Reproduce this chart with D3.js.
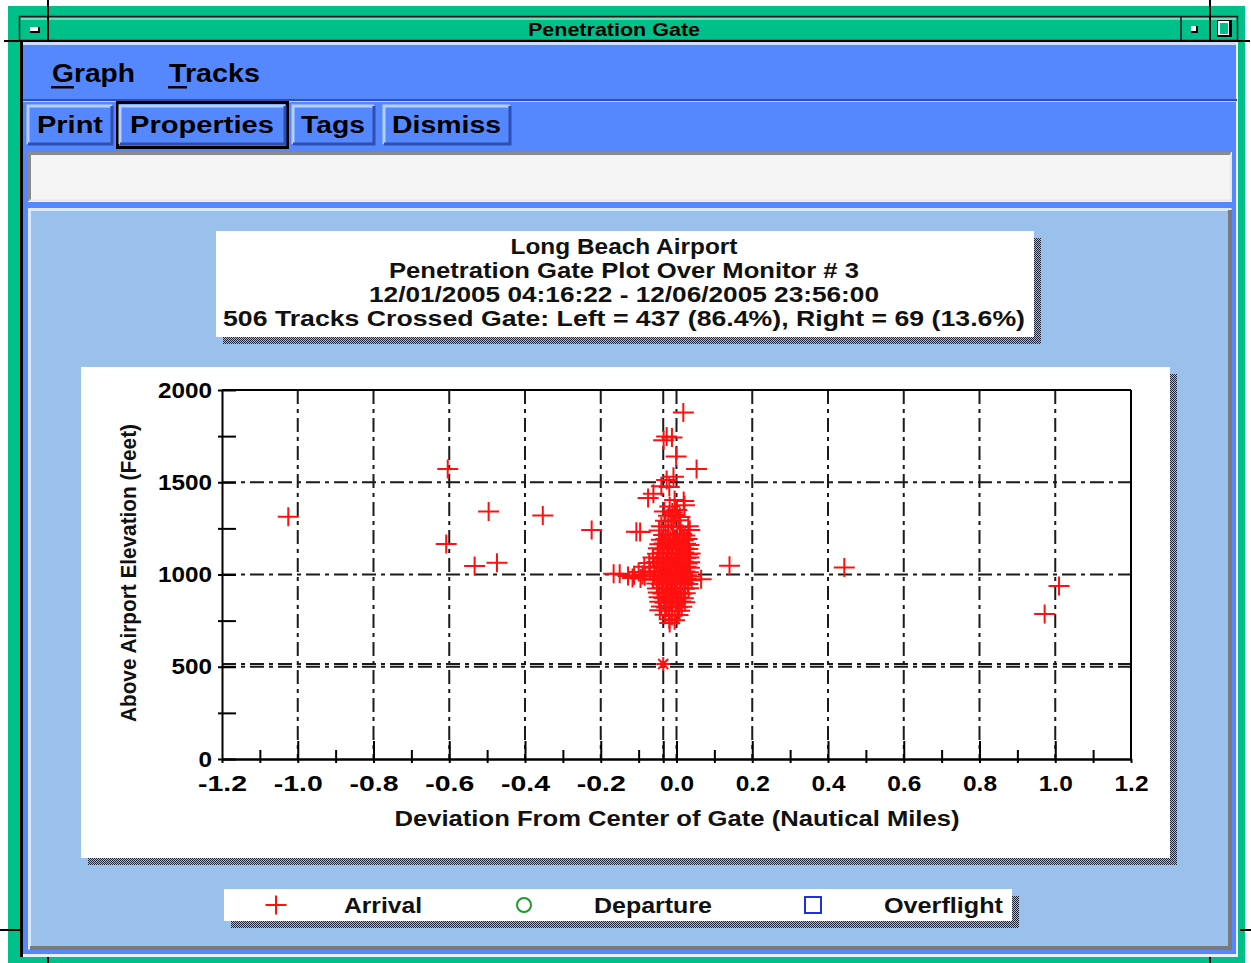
<!DOCTYPE html>
<html><head><meta charset="utf-8">
<script src="https://cdn.jsdelivr.net/npm/d3@7"></script>
<style>body{margin:0;background:#fff}svg{display:block}</style>
</head><body>
<script>
// ---------- chart content ----------
const windowTitle = "Penetration Gate";
const menuItems = ["Graph", "Tracks"];
const buttonLabels = ["Print", "Properties", "Tags", "Dismiss"];
const titleLines = [
  "Long Beach Airport",
  "Penetration Gate Plot Over Monitor # 3",
  "12/01/2005 04:16:22 - 12/06/2005 23:56:00",
  "506 Tracks Crossed Gate:  Left = 437 (86.4%), Right = 69 (13.6%)"
];
const xAxisTitle = "Deviation From Center of Gate (Nautical Miles)";
const yAxisTitle = "Above Airport Elevation (Feet)";
const xTickValues = [-1.2, -1.0, -0.8, -0.6, -0.4, -0.2, 0.0, 0.2, 0.4, 0.6, 0.8, 1.0, 1.2];
const xMinorTicks = [-1.1, -0.9, -0.7, -0.5, -0.3, -0.1, 0.1, 0.3, 0.5, 0.7, 0.9, 1.1];
const xGridValues = [-1.0, -0.8, -0.6, -0.4, -0.2, 0.0, 0.2, 0.4, 0.6, 0.8, 1.0];
const yTickValues = [0, 500, 1000, 1500, 2000];
const yMinorTicks = [250, 750, 1250, 1750];
const yGridValues = [500, 1000, 1500];
const legendLabels = ["Arrival", "Departure", "Overflight"];
// monitor reference position (deviation, altitude)
const monitorDev = [-0.035];
const monitorAlt = [515];

// arrivals away from the main stream: [deviation nm, altitude ft]
const arrivalsSpread = [
  [-1.025, 1313], [-0.604, 1572], [-0.608, 1165], [-0.496, 1341], [-0.533, 1046],
  [-0.474, 1064], [-0.353, 1320], [-0.224, 1241], [-0.166, 1004], [0.140, 1047],
  [0.443, 1038], [1.010, 938], [0.972, 786]
];
// arrivals in the main stream near the gate centre
const arrivalsStream = [
  [0.018, 1878], [-0.026, 1748], [-0.012, 1742], [-0.034, 1728], [-0.001, 1640],
  [0.053, 1572], [-0.008, 1530], [-0.026, 1512], [-0.040, 1478], [-0.019, 1474],
  [-0.061, 1438], [-0.075, 1414], [0.019, 1398], [-0.005, 1404], [-0.018, 1368],
  [0.021, 1376], [-0.032, 1342], [-0.011, 1336], [0.001, 1350], [-0.021, 1318],
  [-0.004, 1322], [0.009, 1312], [-0.029, 1292], [-0.014, 1288], [0.006, 1294],
  [-0.040, 1262], [-0.022, 1258], [-0.009, 1266], [0.010, 1256], [0.031, 1262],
  [0.035, 1241], [-0.046, 1238], [-0.106, 1232], [-0.096, 1230],
  [-0.034, 1214], [-0.022, 1218], [-0.010, 1211], [0.002, 1216], [0.014, 1220], [0.022, 1212],
  [-0.040, 1188], [-0.028, 1192], [-0.016, 1186], [-0.004, 1194], [0.008, 1189], [0.018, 1185], [0.028, 1193],
  [-0.044, 1164], [-0.032, 1168], [-0.020, 1161], [-0.008, 1166], [0.004, 1170], [0.014, 1162], [0.024, 1167], [0.033, 1160],
  [-0.048, 1142], [-0.036, 1137], [-0.024, 1144], [-0.012, 1139], [0.000, 1143], [0.010, 1136], [0.020, 1141], [0.030, 1138],
  [-0.050, 1113], [-0.038, 1118], [-0.026, 1112], [-0.014, 1117], [-0.002, 1111], [0.009, 1116], [0.019, 1119], [0.029, 1110], [0.036, 1114],
  [-0.062, 1092], [-0.046, 1087], [-0.034, 1093], [-0.022, 1088], [-0.010, 1091], [0.002, 1086], [0.013, 1094], [0.024, 1089], [0.033, 1092],
  [-0.072, 1063], [-0.052, 1068], [-0.040, 1062], [-0.028, 1067], [-0.016, 1061], [-0.004, 1066], [0.007, 1064], [0.018, 1069], [0.028, 1060], [0.035, 1066],
  [-0.085, 1042], [-0.058, 1037], [-0.044, 1043], [-0.032, 1038], [-0.020, 1041], [-0.008, 1036], [0.004, 1044], [0.015, 1039], [0.025, 1042], [0.034, 1037],
  [-0.100, 1013], [-0.070, 1018], [-0.050, 1012], [-0.037, 1016], [-0.025, 1011], [-0.013, 1017], [-0.001, 1014], [0.011, 1010], [0.022, 1016], [0.031, 1012],
  [-0.112, 996], [-0.084, 991], [-0.058, 998], [-0.042, 993], [-0.030, 997], [-0.018, 990], [-0.006, 995], [0.006, 999], [0.017, 992], [0.027, 996], [0.036, 989],
  [-0.095, 978], [-0.062, 972], [-0.046, 977], [-0.034, 971], [-0.022, 976], [-0.010, 973], [0.002, 979], [0.013, 970], [0.024, 975], [0.040, 969],
  [-0.052, 951], [-0.040, 946], [-0.028, 953], [-0.016, 948], [-0.004, 952], [0.008, 947], [0.019, 954], [0.030, 949],
  [-0.050, 924], [-0.038, 928], [-0.026, 921], [-0.014, 926], [-0.002, 922], [0.010, 927], [0.021, 923], [0.032, 925],
  [-0.048, 902], [-0.036, 897], [-0.024, 903], [-0.012, 898], [0.000, 901], [0.012, 896], [0.023, 899],
  [-0.046, 877], [-0.033, 872], [-0.020, 878], [-0.007, 873], [0.006, 876], [0.018, 871],
  [-0.044, 852], [-0.030, 847], [-0.016, 851], [-0.002, 846], [0.012, 853], [0.022, 849],
  [-0.040, 826], [-0.026, 821], [-0.012, 827], [0.002, 822], [0.014, 825],
  [-0.044, 806], [-0.020, 803], [0.008, 804],
  [-0.030, 782], [-0.012, 777], [0.004, 781],
  [-0.019, 757], [-0.005, 752], [-0.018, 737],
  [-0.150, 1004], [-0.128, 992], [-0.116, 981], [-0.090, 997], [0.065, 974]
];

// ---------- drawing ----------
const W = 1251, H = 963;
const FONT = "'Liberation Sans', Arial, sans-serif";
const C = {
  green: "#00c08a", blue: "#5588ff", blueLight: "#b4d0ff", blueDark: "#2f4fb0",
  panel: "#99c1ec", red: "#ff1010", ink: "#111"
};

const svg = d3.select("body").append("svg").attr("width", W).attr("height", H);
const defs = svg.append("defs");
const pat = defs.append("pattern").attr("id", "dither")
  .attr("width", 2).attr("height", 2).attr("patternUnits", "userSpaceOnUse");
pat.append("rect").attr("width", 2).attr("height", 2).attr("fill", C.panel);
pat.append("rect").attr("width", 1).attr("height", 1).attr("fill", "#1c2238");
pat.append("rect").attr("x", 1).attr("y", 1).attr("width", 1).attr("height", 1).attr("fill", "#1c2238");

function fit(sel, w) {
  return sel.attr("textLength", w).attr("lengthAdjust", "spacingAndGlyphs");
}
// advance widths of the condensed bold numerals used on the axes
function numeralWidth(s) {
  let w = 0;
  for (const ch of s) w += ch === "." ? 7 : ch === "-" ? 15 : 13.5;
  return w;
}
function line(g, x1, y1, x2, y2, stroke, sw) {
  return g.append("line").attr("x1", x1).attr("y1", y1).attr("x2", x2).attr("y2", y2)
    .attr("stroke", stroke).attr("stroke-width", sw);
}

// window frame
svg.append("rect").attr("width", W).attr("height", H).attr("fill", "#fff");
svg.append("rect").attr("x", 8).attr("y", 6).attr("width", 1237).attr("height", H - 6).attr("fill", C.green);
// title bar
const tb = svg.append("g");
tb.append("rect").attr("x", 19.5).attr("y", 16.5).attr("width", 1218).attr("height", 24)
  .attr("fill", C.green).attr("stroke", "#1a1a1a").attr("stroke-width", 1.5);
line(tb, 21, 19, 1236, 19, "#8fe8cc", 1.5);
line(tb, 1181, 17, 1181, 40, "#1a1a1a", 1.5);
// frame handle separators
line(tb, 48, 0, 48, 41, "#000", 2);
line(tb, 1210, 0, 1210, 41, "#000", 2);
line(tb, 4, 41, 1250, 41, "#000", 2);
line(tb, 1240, 930, 1251, 930, "#000", 2);
line(tb, 0, 930, 20, 930, "#000", 2);
line(tb, 1210, 957, 1210, 963, "#000", 2);
line(tb, 48, 957, 48, 963, "#000", 2);
// title bar icons
tb.append("rect").attr("x", 30).attr("y", 27).attr("width", 10).attr("height", 6).attr("fill", "#000");
tb.append("rect").attr("x", 30).attr("y", 27).attr("width", 8).attr("height", 4).attr("fill", "#fff");
tb.append("rect").attr("x", 1191).attr("y", 26).attr("width", 7).attr("height", 7).attr("fill", "#000");
tb.append("rect").attr("x", 1191).attr("y", 26).attr("width", 5).attr("height", 5).attr("fill", "#fff");
tb.append("rect").attr("x", 1217).attr("y", 20).attr("width", 15).attr("height", 17).attr("fill", "#000");
tb.append("rect").attr("x", 1218).attr("y", 21).attr("width", 11).attr("height", 14).attr("fill", "#fff");
tb.append("rect").attr("x", 1220).attr("y", 23).attr("width", 8).attr("height", 11).attr("fill", C.green);
fit(tb.append("text").attr("x", 614).attr("y", 36).attr("text-anchor", "middle")
  .attr("font-family", FONT).attr("font-weight", "bold").attr("font-size", 18)
  .attr("fill", "#000").text(windowTitle), 172);

// client area
const ca = svg.append("g");
ca.append("rect").attr("x", 20).attr("y", 42).attr("width", 3).attr("height", 915).attr("fill", "#000");
ca.append("rect").attr("x", 23).attr("y", 42).attr("width", 1214).attr("height", 914).attr("fill", C.blue);
ca.append("rect").attr("x", 23).attr("y", 42).attr("width", 1214).attr("height", 3).attr("fill", "#cfe0ff");
ca.append("rect").attr("x", 1236).attr("y", 42).attr("width", 2).attr("height", 914).attr("fill", "#e8f0ff");
ca.append("rect").attr("x", 23).attr("y", 954).attr("width", 1215).attr("height", 3).attr("fill", "#e8f0ff");
ca.append("rect").attr("x", 23).attr("y", 99).attr("width", 1214).attr("height", 2).attr("fill", C.blueDark);
ca.append("rect").attr("x", 23).attr("y", 101).attr("width", 1214).attr("height", 1).attr("fill", C.blueLight);

// menu bar
const menuX = [52, 169], menuW = [83, 91];
menuItems.forEach((m, i) => {
  fit(ca.append("text").attr("x", menuX[i]).attr("y", 82).attr("font-family", FONT)
    .attr("font-weight", "bold").attr("font-size", 25).attr("fill", "#000").text(m), menuW[i]);
  ca.append("rect").attr("x", menuX[i] - 1).attr("y", 86).attr("width", i === 0 ? 23 : 19)
    .attr("height", 2.5).attr("fill", "#000");
});

// push buttons
const btnBox = [[28, 84], [120, 165], [293, 81], [384, 126]];
const btnText = [[37, 66], [130, 144], [301, 64], [392, 109]];
function bevel(g, x, y, w, h, up) {
  g.append("rect").attr("x", x).attr("y", y).attr("width", w).attr("height", h).attr("fill", C.blue);
  g.append("path").attr("d", `M${x},${y + h}V${y}H${x + w}`).attr("fill", "none")
    .attr("stroke", up ? C.blueLight : "#888").attr("stroke-width", 3);
  g.append("path").attr("d", `M${x + w},${y}V${y + h}H${x}`).attr("fill", "none")
    .attr("stroke", up ? C.blueDark : "#eee").attr("stroke-width", 3);
}
ca.append("rect").attr("x", 117.5).attr("y", 102.5).attr("width", 170).attr("height", 45)
  .attr("fill", "none").attr("stroke", "#000").attr("stroke-width", 3);
buttonLabels.forEach((b, i) => {
  bevel(ca, btnBox[i][0], 106, btnBox[i][1], 38, true);
  fit(ca.append("text").attr("x", btnText[i][0]).attr("y", 133).attr("font-family", FONT)
    .attr("font-weight", "bold").attr("font-size", 23).attr("fill", "#000").text(b), btnText[i][1]);
});

// message field
ca.append("rect").attr("x", 28).attr("y", 152).attr("width", 1204).attr("height", 50).attr("fill", "#f5f5f5");
ca.append("path").attr("d", "M29.5,201V153.5H1231").attr("fill", "none").attr("stroke", "#8a8a8a").attr("stroke-width", 3);
ca.append("path").attr("d", "M1231,153.5V200.5H29.5").attr("fill", "none").attr("stroke", "#e8e8e8").attr("stroke-width", 2);

// plot panel
ca.append("rect").attr("x", 28).attr("y", 208).attr("width", 1204).attr("height", 742).attr("fill", C.panel);
ca.append("path").attr("d", "M29.5,949V209.5H1231").attr("fill", "none").attr("stroke", "#dde9fb").attr("stroke-width", 3);
ca.append("path").attr("d", "M1230,210V948H30").attr("fill", "none").attr("stroke", "#7a7a7a").attr("stroke-width", 4);

function card(x, y, w, h, off) {
  ca.append("rect").attr("x", x + off).attr("y", y + off).attr("width", w).attr("height", h).attr("fill", "url(#dither)");
  ca.append("rect").attr("x", x).attr("y", y).attr("width", w).attr("height", h).attr("fill", "#fff");
}

// title card
card(216, 231, 818, 106, 7);
const titleY = [254, 278, 302, 326];
const titleW = [227, 470, 510, 802];
titleLines.forEach((t, i) => {
  fit(ca.append("text").attr("x", 624).attr("y", titleY[i]).attr("text-anchor", "middle")
    .attr("font-family", FONT).attr("font-weight", "bold").attr("font-size", 22)
    .attr("fill", C.ink).text(t), titleW[i]);
});

// chart card
card(81, 367, 1089, 491, 7);

const x = d3.scaleLinear().domain([-1.2, 1.2]).range([222, 1131]);
const y = d3.scaleLinear().domain([0, 2000]).range([759, 390]);
const plot = ca.append("g");

// dash-dot grid
const gridStyle = g => g.attr("stroke", "#1a1a1a").attr("stroke-width", 2).attr("stroke-dasharray", "14,5,4,5");
plot.selectAll("line.gx").data(xGridValues.concat(monitorDev)).join("line").attr("class", "gx")
  .attr("x1", d => x(d)).attr("x2", d => x(d)).attr("y1", y(2000)).attr("y2", y(0)).call(gridStyle);
plot.selectAll("line.gy").data(yGridValues.concat(monitorAlt)).join("line").attr("class", "gy")
  .attr("y1", d => y(d)).attr("y2", d => y(d)).attr("x1", x(-1.2)).attr("x2", x(1.2)).call(gridStyle);

// arrivals
const plusPath = "M-10.5,0H10.5M0,-9.5V9.5";
plot.selectAll("path.arr").data(arrivalsSpread.concat(arrivalsStream)).join("path").attr("class", "arr")
  .attr("d", plusPath).attr("transform", d => `translate(${x(d[0])},${y(d[1])})`)
  .attr("fill", "none").attr("stroke", C.red).attr("stroke-width", 2);

// monitor marker
plot.selectAll("path.mon").data(monitorDev.map((d, i) => [d, monitorAlt[i]])).join("path").attr("class", "mon")
  .attr("d", "M-7,0H7M0,-7V7M-5,-5L5,5M-5,5L5,-5")
  .attr("transform", d => `translate(${x(d[0])},${y(d[1])})`)
  .attr("fill", "none").attr("stroke", C.red).attr("stroke-width", 2);

// frame top / right
line(plot, x(-1.2), y(2000), x(1.2), y(2000), "#000", 2);
line(plot, x(1.2), y(2000), x(1.2), y(0), "#000", 2);

// axes
const axStyle = g => {
  g.selectAll("path.domain").attr("stroke", "#000").attr("stroke-width", 2);
  g.selectAll(".tick line").attr("stroke", "#000").attr("stroke-width", 2);
  g.selectAll("text").attr("font-family", FONT).attr("font-weight", "bold")
    .attr("font-size", 22).attr("fill", "#000");
};
const xMinor = plot.append("g").attr("transform", `translate(0,${y(0)})`)
  .call(d3.axisBottom(x).tickValues(xMinorTicks).tickSize(-9).tickSizeOuter(0).tickFormat(""));
xMinor.call(axStyle);
xMinor.selectAll(".tick line").attr("y1", 4);
const fmtX = d => xTickValues.includes(d) ? d3.format(".1f")(d).replace("\u2212", "-") : "";
const xMajor = plot.append("g").attr("transform", `translate(0,${y(0)})`)
  .call(d3.axisBottom(x).tickValues(xTickValues.concat(monitorDev)).tickSize(-18).tickSizeOuter(0)
    .tickPadding(16).tickFormat(fmtX));
xMajor.call(axStyle);
xMajor.selectAll(".tick line").attr("y1", 4);
xMajor.selectAll(".tick").filter(d => d === -1.2 || d === 1.2).select("line").attr("y2", 0);
xMajor.selectAll(".tick text").filter(d => xTickValues.includes(d))
  .each(function (d) { fit(d3.select(this), numeralWidth(fmtX(d))); });

const yAx = plot.append("g").attr("transform", `translate(${x(-1.2)},0)`)
  .call(d3.axisLeft(y).tickValues(yTickValues.concat(yMinorTicks)).tickSize(-14).tickSizeOuter(0)
    .tickPadding(10).tickFormat(d => yTickValues.includes(d) ? d : ""));
yAx.call(axStyle);
yAx.selectAll(".tick line").attr("x1", -4);
yAx.selectAll(".tick text").filter(d => yTickValues.includes(d))
  .each(function (d) { fit(d3.select(this), numeralWidth(String(d))); });

// axis titles
fit(ca.append("text").attr("x", 677).attr("y", 826).attr("text-anchor", "middle")
  .attr("font-family", FONT).attr("font-weight", "bold").attr("font-size", 22).attr("fill", C.ink)
  .text(xAxisTitle), 565);
fit(ca.append("text").attr("transform", "translate(136,573) rotate(-90)").attr("text-anchor", "middle")
  .attr("font-family", FONT).attr("font-weight", "bold").attr("font-size", 22).attr("fill", C.ink)
  .text(yAxisTitle), 298);

// legend
card(224, 889, 788, 32, 7);
const lg = ca.append("g");
lg.append("path").attr("d", plusPath).attr("transform", "translate(276,905)")
  .attr("fill", "none").attr("stroke", C.red).attr("stroke-width", 2);
lg.append("circle").attr("cx", 524).attr("cy", 905).attr("r", 7)
  .attr("fill", "none").attr("stroke", "#1c9a2a").attr("stroke-width", 2);
lg.append("rect").attr("x", 805).attr("y", 897).attr("width", 16).attr("height", 16)
  .attr("fill", "none").attr("stroke", "#1f2fe8").attr("stroke-width", 2);
const legX = [344, 594, 884], legW = [78, 118, 119];
legendLabels.forEach((l, i) => {
  fit(lg.append("text").attr("x", legX[i]).attr("y", 913).attr("font-family", FONT)
    .attr("font-weight", "bold").attr("font-size", 22).attr("fill", C.ink).text(l), legW[i]);
});
</script>
</body></html>
